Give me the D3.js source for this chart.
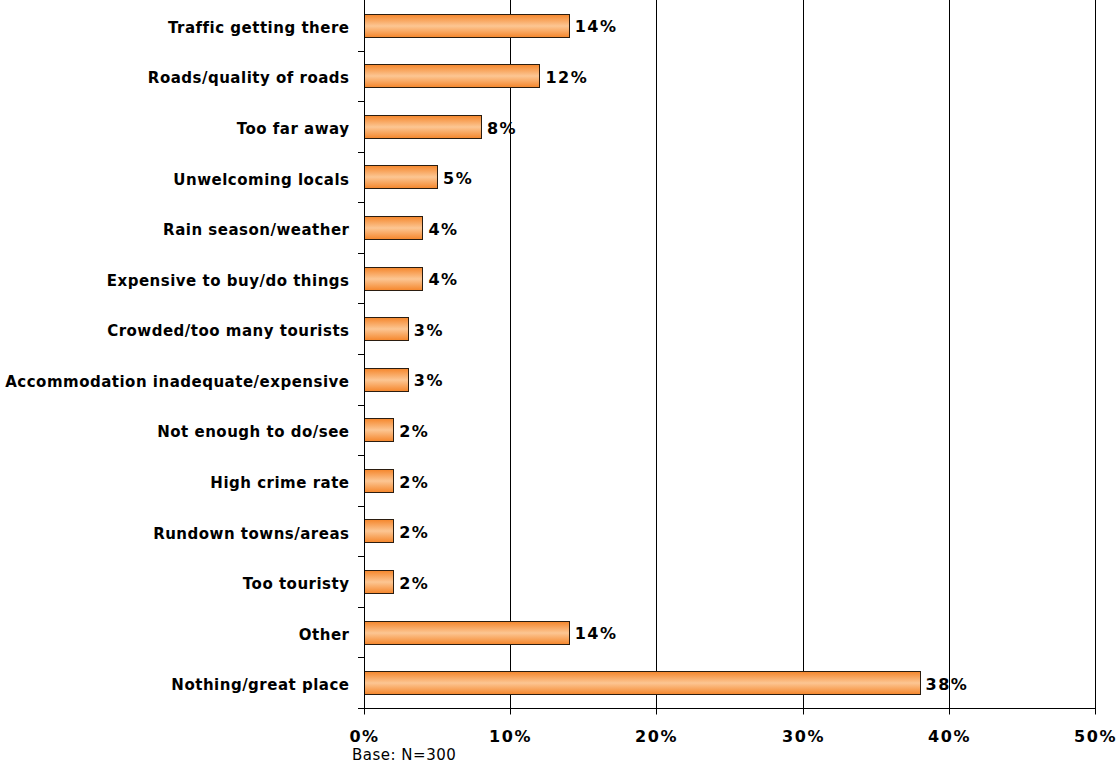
<!DOCTYPE html>
<html>
<head>
<meta charset="utf-8">
<script src="https://cdn.jsdelivr.net/npm/d3@7"></script>
<style>
  html, body { margin: 0; padding: 0; background: #fff; }
  svg { display: block; }
</style>
</head>
<body>
<svg id="chart" width="1120" height="769"></svg>
<script>
// Reasons for not liking the destination, share of respondents (%)
const categories = [
  "Traffic getting there",
  "Roads/quality of roads",
  "Too far away",
  "Unwelcoming locals",
  "Rain season/weather",
  "Expensive to buy/do things",
  "Crowded/too many tourists",
  "Accommodation inadequate/expensive",
  "Not enough to do/see",
  "High crime rate",
  "Rundown towns/areas",
  "Too touristy",
  "Other",
  "Nothing/great place"
];
const values = [14, 12, 8, 5, 4, 4, 3, 3, 2, 2, 2, 2, 14, 38];
const xTicks = [0, 10, 20, 30, 40, 50];
const baseNote = "Base: N=300";

const svg = d3.select("#chart");
const plotLeft = 364, plotRight = 1095, plotTop = 0, plotBottom = 708;
const labelFont = "'DejaVu Sans', Verdana, sans-serif";

const x = d3.scaleLinear().domain([0, 50]).range([plotLeft, plotRight]);
const y = d3.scaleBand().domain(categories).range([plotTop, plotBottom])
  .paddingInner(0.54).paddingOuter(0.27);
const px = v => Math.round(x(v)) + 0.5;   // crisp 1px lines

// bar fill: darker orange at the edges, lighter through the middle
const defs = svg.append("defs");
const grad = defs.append("linearGradient").attr("id", "barFill")
  .attr("x1", 0).attr("y1", 0).attr("x2", 0).attr("y2", 1);
grad.append("stop").attr("offset", "0%").attr("stop-color", "#F5862B");
grad.append("stop").attr("offset", "50%").attr("stop-color", "#FCC693");
grad.append("stop").attr("offset", "100%").attr("stop-color", "#F5862B");

// vertical gridlines
svg.append("g").selectAll("line")
  .data(xTicks.filter(d => d > 0))
  .join("line")
  .attr("x1", d => px(d)).attr("x2", d => px(d))
  .attr("y1", plotTop).attr("y2", plotBottom)
  .attr("stroke", "#000").attr("stroke-width", 1);

// bars
svg.append("g").selectAll("rect")
  .data(values)
  .join("rect")
  .attr("x", px(0))
  .attr("y", (d, i) => Math.round(y(categories[i])) + 0.5)
  .attr("width", d => px(d) - px(0))
  .attr("height", Math.round(y.bandwidth()))
  .attr("fill", "url(#barFill)")
  .attr("stroke", "#2b1d10").attr("stroke-width", 1);

// value labels
svg.append("g").selectAll("text")
  .data(values)
  .join("text")
  .attr("x", d => x(d) + 6)
  .attr("y", (d, i) => y(categories[i]) + y.bandwidth() / 2)
  .attr("dy", "0.45em")
  .attr("font-family", labelFont)
  .attr("font-weight", "bold")
  .attr("font-size", 16)
  .attr("letter-spacing", 1.5)
  .attr("fill", "#000")
  .text(d => d + "%");

// category axis (ticks at band boundaries)
const step = y.step();
svg.append("line")
  .attr("x1", px(0)).attr("x2", px(0))
  .attr("y1", plotTop).attr("y2", plotBottom)
  .attr("stroke", "#000");
svg.append("g").selectAll("line")
  .data(d3.range(1, categories.length + 1))
  .join("line")
  .attr("x1", plotLeft - 6).attr("x2", plotLeft)
  .attr("y1", i => Math.round(plotTop + i * step) + 0.5)
  .attr("y2", i => Math.round(plotTop + i * step) + 0.5)
  .attr("stroke", "#000");
svg.append("g").selectAll("text")
  .data(categories)
  .join("text")
  .attr("x", plotLeft - 14.5)
  .attr("y", d => y(d) + y.bandwidth() / 2)
  .attr("dy", "0.5em")
  .attr("text-anchor", "end")
  .attr("font-family", labelFont)
  .attr("font-weight", "bold")
  .attr("font-size", 15)
  .attr("letter-spacing", 0.5)
  .attr("fill", "#000")
  .text(d => d);

// value axis
const xAxis = svg.append("g")
  .attr("transform", `translate(0,${plotBottom + 0.5})`)
  .call(d3.axisBottom(x).tickValues(xTicks).tickFormat(d => d + "%").tickSize(6).tickPadding(16));
xAxis.select(".domain").attr("stroke", "#000").attr("d", `M${plotLeft},0H${plotRight + 1}`);
xAxis.selectAll(".tick").attr("transform", d => `translate(${px(d)},0)`);
xAxis.selectAll(".tick line").attr("stroke", "#000");
xAxis.selectAll(".tick text")
  .attr("font-family", labelFont)
  .attr("font-weight", "bold")
  .attr("font-size", 16)
  .attr("letter-spacing", 1.5)
  .attr("fill", "#000");

svg.append("text")
  .attr("x", 352).attr("y", 759.5)
  .attr("font-family", labelFont)
  .attr("font-size", 15)
  .attr("letter-spacing", 0.5)
  .attr("fill", "#000")
  .text(baseNote);
</script>
</body>
</html>
